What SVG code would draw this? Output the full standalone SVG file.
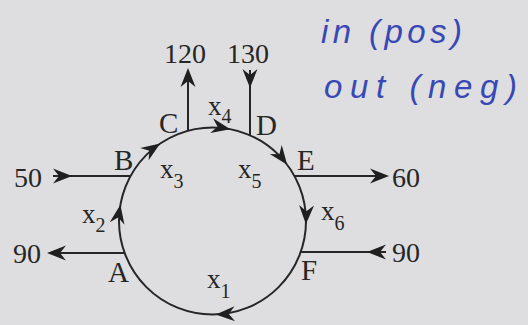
<svg xmlns="http://www.w3.org/2000/svg" xmlns:xlink="http://www.w3.org/1999/xlink" width="528" height="325" viewBox="0 0 528 325">
<style>
.bg{fill:#dedee0}
.ln{stroke:#262626;stroke-width:2;fill:none}
.ah{fill:#1f1f1f}
.t{font-family:"Liberation Serif","Times New Roman",serif;fill:#262626}
.lbl{font-size:29px}
.num{font-size:28px}
.xv{font-size:27px}
.sub{font-size:20px}
.hw{font-family:"Liberation Sans",Arial,sans-serif;font-style:italic;font-size:33px;fill:#3848b4}
</style>
<defs>
<path id="ah" d="M0,0 L-19,-7.5 L-13,0 L-19,7.5 Z"/>
</defs>
<rect class="bg" x="0" y="0" width="528" height="325"/>

<g id="connectors">
  <circle class="ln" cx="212.5" cy="221" r="93.5"/>
  <!-- circle flow arrows -->
  <use class="ah" href="#ah" transform="translate(120.4,204.8) rotate(280)"/>
  <use class="ah" href="#ah" transform="translate(160.2,143.5) rotate(326)"/>
  <use class="ah" href="#ah" transform="translate(230.3,129.2) rotate(11)"/>
  <use class="ah" href="#ah" transform="translate(287.2,164.7) rotate(53)"/>
  <use class="ah" href="#ah" transform="translate(305.9,224.3) rotate(92)"/>
  <use class="ah" href="#ah" transform="translate(215.8,314.4) rotate(178)"/>
  <!-- external flows -->
  <line class="ln" x1="188" y1="130.8" x2="188" y2="72"/>
  <use class="ah" href="#ah" transform="translate(188,68) rotate(-90)"/>
  <line class="ln" x1="250" y1="70" x2="250" y2="135.4"/>
  <use class="ah" href="#ah" transform="translate(250,88) rotate(90)"/>
  <line class="ln" x1="53" y1="176" x2="130.5" y2="176"/>
  <use class="ah" href="#ah" transform="translate(72,176)"/>
  <line class="ln" x1="51" y1="253" x2="124.6" y2="253"/>
  <use class="ah" href="#ah" transform="translate(47,253) rotate(180)"/>
  <line class="ln" x1="294.5" y1="176" x2="385" y2="176"/>
  <use class="ah" href="#ah" transform="translate(389,176)"/>
  <line class="ln" x1="300.7" y1="252" x2="386" y2="252"/>
  <use class="ah" href="#ah" transform="translate(367,252) rotate(180)"/>
</g>

<g id="node-A"><text class="t lbl" x="108" y="282">A</text></g>
<g id="node-B"><text class="t lbl" x="114" y="170">B</text></g>
<g id="node-C"><text class="t lbl" x="159" y="133">C</text></g>
<g id="node-D"><text class="t lbl" x="256" y="135">D</text></g>
<g id="node-E"><text class="t lbl" x="297" y="170">E</text></g>
<g id="node-F"><text class="t lbl" x="301" y="280">F</text></g>

<g id="flow-labels">
  <text class="t num" x="185" y="63" text-anchor="middle">120</text>
  <text class="t num" x="248" y="63" text-anchor="middle">130</text>
  <text class="t num" x="14" y="187">50</text>
  <text class="t num" x="13" y="263">90</text>
  <text class="t num" x="392" y="187">60</text>
  <text class="t num" x="392" y="262">90</text>
</g>

<g id="stream-labels">
  <text class="t" x="207" y="288"><tspan class="xv">x</tspan><tspan class="sub" dy="10">1</tspan></text>
  <text class="t" x="82" y="223"><tspan class="xv">x</tspan><tspan class="sub" dy="9">2</tspan></text>
  <text class="t" x="160" y="178"><tspan class="xv">x</tspan><tspan class="sub" dy="10">3</tspan></text>
  <text class="t" x="208" y="115"><tspan class="xv">x</tspan><tspan class="sub" dy="8">4</tspan></text>
  <text class="t" x="238" y="178"><tspan class="xv">x</tspan><tspan class="sub" dy="10">5</tspan></text>
  <text class="t" x="321" y="220"><tspan class="xv">x</tspan><tspan class="sub" dy="10">6</tspan></text>
</g>

<g id="note">
  <text class="hw" x="321" y="43" textLength="141" lengthAdjust="spacing">in (pos)</text>
  <text class="hw" x="324" y="98" textLength="193" lengthAdjust="spacing">out (neg)</text>
</g>
</svg>
